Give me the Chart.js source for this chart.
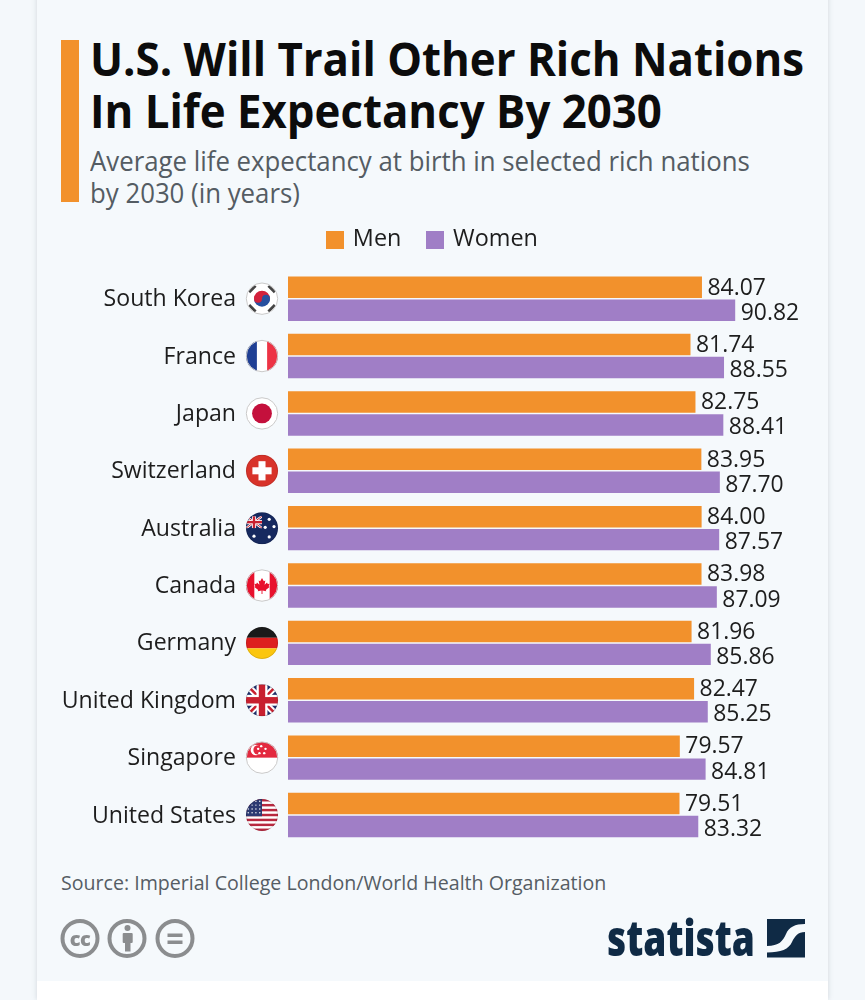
<!DOCTYPE html>
<html><head><meta charset="utf-8">
<script src="https://cdn.jsdelivr.net/npm/chart.js@4"></script>
<style>
html,body{margin:0;padding:0;background:#f4f8fb;width:865px;height:1000px;overflow:hidden;font-family:"Open Sans",sans-serif}
#card{position:absolute;left:37px;top:-10px;width:791px;height:1010px;background:#f5f9fc;box-shadow:0 0 5px rgba(120,130,140,.28)}
#foot{position:absolute;left:37px;top:981px;width:791px;height:19px;background:#fff}
#bar{position:absolute;left:61px;top:40px;width:18px;height:162px;background:#f2912c}
.t{position:absolute;white-space:nowrap;transform-origin:0 50%}
#t1,#t2{left:90px;font-weight:700;font-size:46px;line-height:52px;color:#0c0c0c;transform:scaleX(.952)}
#t1{top:32px}#t2{top:84px}
#s1,#s2{left:89.5px;font-size:27px;line-height:32px;color:#545c63;transform:scaleX(.955)}
#s1{top:145px}#s2{top:177px}
#src{left:61px;top:870px;font-size:19.6px;line-height:26px;color:#555d64}
canvas{position:absolute;left:0;top:0}
svg{position:absolute;left:0;top:0}
</style></head><body>
<div id="card"></div><div id="foot"></div><div id="bar"></div>
<div class="t" id="t1">U.S. Will Trail Other Rich Nations</div>
<div class="t" id="t2">In Life Expectancy By 2030</div>
<div class="t" id="s1">Average life expectancy at birth in selected rich nations</div>
<div class="t" id="s2">by 2030 (in years)</div>
<div class="t" id="src">Source: Imperial College London/World Health Organization</div>
<canvas id="c" width="865" height="860" style="width:865px;height:860px"></canvas>
<svg width="865" height="1000" viewBox="0 0 865 1000">
 <g fill="none" stroke="#8b8d8f" stroke-width="4">
  <circle cx="80" cy="938.5" r="17.5"/><circle cx="127" cy="938.5" r="17.5"/><circle cx="175" cy="938.5" r="17.5"/>
 </g>
 <text x="80" y="945.5" text-anchor="middle" font-family="Open Sans" font-weight="800" font-size="20" fill="#8b8d8f" letter-spacing="-0.5">cc</text>
 <g fill="#8b8d8f">
  <circle cx="127.5" cy="928" r="3"/>
  <rect x="122.7" y="933" width="10" height="10" rx="1"/><rect x="125" y="942" width="5.5" height="9.5"/>
  <rect x="167.5" y="933.5" width="15" height="3.5"/><rect x="167.5" y="940.5" width="15" height="3.5"/>
 </g>
 <text x="607" y="956" font-family="Open Sans" font-weight="800" font-size="50" fill="#0f2a45" textLength="148" lengthAdjust="spacingAndGlyphs">statista</text>
 <rect x="767" y="919" width="38" height="38.5" fill="#0f2a45"/>
 <path d="M767 946 C779 946 783 941 786 934 C789 927 795 924 805 924 L805 932 C798 932 795 936 792 942 C789 949 781 952.5 767 952.5Z" fill="#f5f9fc"/>
</svg>
<script>
const categories = ["South Korea","France","Japan","Switzerland","Australia","Canada","Germany","United Kingdom","Singapore","United States"];
const flagCodes = ["kr","fr","jp","ch","au","ca","de","uk","sg","us"];
const men = [84.07,81.74,82.75,83.95,84.00,83.98,81.96,82.47,79.57,79.51];
const women = [90.82,88.55,88.41,87.70,87.57,87.09,85.86,85.25,84.81,83.32];
const seriesNames = ["Men","Women"];
const ORANGE = "#f2912c", PURPLE = "#a07ec6", INK = "#1d1d1d";

function swatch(color){
  const s=document.createElement("canvas");s.width=18;s.height=18;
  const g=s.getContext("2d");g.fillStyle=color;g.fillRect(0,0,18,18);return s;
}
function unionJack(g,x,y,w,h){
  g.save();g.beginPath();g.rect(x,y,w,h);g.clip();
  g.fillStyle="#1f2f6b";g.fillRect(x,y,w,h);
  const line=(c,lw)=>{g.strokeStyle=c;g.lineWidth=lw;g.beginPath();g.moveTo(x,y);g.lineTo(x+w,y+h);g.moveTo(x+w,y);g.lineTo(x,y+h);g.stroke();};
  line("#fff",h*.2);line("#c8202f",h*.08);
  g.fillStyle="#fff";g.fillRect(x+w/2-h*.17,y,h*.34,h);g.fillRect(x,y+h*.33,w,h*.34);
  g.fillStyle="#c8202f";g.fillRect(x+w/2-h*.1,y,h*.2,h);g.fillRect(x,y+h*.4,w,h*.2);
  g.restore();
}
function dots(g,list,c,r){g.fillStyle=c;list.forEach(p=>{g.beginPath();g.arc(p[0],p[1],r,0,7);g.fill();});}
function drawFlag(g,code,x,y,r){
  g.save();
  g.beginPath();g.arc(x,y,r,0,Math.PI*2);g.clip();
  const L=x-r,T=y-r,S=2*r;
  const rect=(c,a,b,w,h)=>{g.fillStyle=c;g.fillRect(L+a*S,T+b*S,w*S,h*S);};
  rect("#fff",0,0,1,1);
  if(code==="kr"){
    g.fillStyle="#d2213c";g.beginPath();g.arc(x,y,r*.5,Math.PI,0);g.fill();
    g.fillStyle="#27509f";g.beginPath();g.arc(x,y,r*.5,0,Math.PI);g.fill();
    g.fillStyle="#d2213c";g.beginPath();g.arc(x-r*.25,y,r*.25,0,7);g.fill();
    g.fillStyle="#27509f";g.beginPath();g.arc(x+r*.25,y,r*.25,0,7);g.fill();
    g.strokeStyle="#444";g.lineWidth=r*.17;
    [[-1,-1],[1,-1],[-1,1],[1,1]].forEach(d=>{
      g.beginPath();
      const cx=x+d[0]*r*.6,cy=y+d[1]*r*.6,tx=d[0]*d[1]*r*.2,ty=-r*.2;
      g.moveTo(cx-tx,cy-ty);g.lineTo(cx+tx,cy+ty);g.stroke();});
  } else if(code==="fr"){
    rect("#1f3f94",0,0,.34,1);rect("#ed3345",.66,0,.34,1);
  } else if(code==="jp"){
    g.fillStyle="#c4103c";g.beginPath();g.arc(x,y,r*.62,0,7);g.fill();
  } else if(code==="ch"){
    rect("#d8332a",0,0,1,1);rect("#fff",.39,.2,.22,.6);rect("#fff",.2,.39,.6,.22);
  } else if(code==="au"){
    rect("#16295f",0,0,1,1);
    unionJack(g,L,y-r*.75,r,r*.75);
    dots(g,[[x-r*.5,y+r*.5],[x+r*.45,y-r*.55],[x+r*.75,y-r*.1],[x+r*.2,y-r*.05],[x+r*.45,y+r*.55]],"#fff",r*.1);
  } else if(code==="ca"){
    rect("#e8112d",0,0,.26,1);rect("#e8112d",.74,0,.26,1);
    g.fillStyle="#e8112d";g.beginPath();
    const lf=[[0,-.5],[.12,-.28],[.22,-.33],[.17,-.05],[.33,-.2],[.38,-.1],[.5,-.12],[.44,.05],[.5,.1],[.25,.3],[.28,.38],[.03,.33],[.03,.55],[-.03,.55],[-.03,.33],[-.28,.38],[-.25,.3],[-.5,.1],[-.44,.05],[-.5,-.12],[-.38,-.1],[-.33,-.2],[-.17,-.05],[-.22,-.33],[-.12,-.28]];
    lf.forEach((p,i)=>{const a=x+p[0]*r*.95,b=y+p[1]*r*.95;i?g.lineTo(a,b):g.moveTo(a,b);});
    g.closePath();g.fill();
  } else if(code==="de"){
    rect("#1a1a1a",0,0,1,.34);rect("#dd1f1f",0,.34,1,.33);rect("#fbc60f",0,.67,1,.33);
  } else if(code==="uk"){
    unionJack(g,L,T,S,S);
  } else if(code==="sg"){
    rect("#e3293f",0,0,1,.5);
    g.fillStyle="#fff";g.beginPath();g.arc(x-r*.38,y-r*.48,r*.33,0,7);g.fill();
    g.fillStyle="#e3293f";g.beginPath();g.arc(x-r*.24,y-r*.48,r*.3,0,7);g.fill();
    dots(g,[[x-r*.05,y-r*.72],[x+r*.22,y-r*.55],[x+r*.14,y-r*.28],[x-r*.16,y-r*.28],[x-r*.24,y-r*.55]],"#fff",r*.075);
  } else if(code==="us"){
    for(let i=0;i<7;i++) rect("#b8283f",0,i*2/13,1,1/13);
    rect("#2c3a72",0,0,.5,7/13);
    const st=[];for(let a=0;a<4;a++)for(let b=0;b<4;b++)st.push([L+S*(.07+b*.12),T+S*(.07+a*.12)]);
    dots(g,st,"#fff",r*.045);
  }
  g.restore();
  g.strokeStyle=["kr","jp","sg","fr","ca"].includes(code)?"#c9c9c9":"rgba(0,0,0,.12)";
  g.lineWidth=1;g.beginPath();g.arc(x,y,r-.3,0,Math.PI*2);g.stroke();
}
const extras = {
  id:"extras",
  beforeLayout(chart){
    const lg=chart.legend;
    if(lg && !lg._pinned){
      const f=lg.fit;
      lg.fit=function(){f.call(this);this.height=70;};
      lg._pinned=true;
    }
  },
  afterDatasetsDraw(chart){
    const g=chart.ctx, y=chart.scales.y;
    flagCodes.forEach((c,i)=>drawFlag(g,c,262,y.getPixelForValue(i),16));
    g.save();g.font='22.9px "Open Sans"';g.fillStyle=INK;g.textAlign="left";g.textBaseline="middle";
    chart.data.datasets.forEach((ds,k)=>{
      chart.getDatasetMeta(k).data.forEach((el,i)=>{
        g.fillText(ds.data[i].toFixed(2),el.x+5.5,el.y+(k===0?0.8:3));
      });
    });
    g.restore();
  }
};
new Chart(document.getElementById("c"),{
  type:"bar",
  data:{labels:categories,datasets:[
    {label:seriesNames[0],data:men,backgroundColor:ORANGE,categoryPercentage:.8,barPercentage:.935},
    {label:seriesNames[1],data:women,backgroundColor:PURPLE,categoryPercentage:.8,barPercentage:.935}
  ]},
  options:{
    indexAxis:"y",responsive:false,animation:false,
    layout:{padding:{top:200,right:0,bottom:16.3,left:2}},
    plugins:{
      tooltip:{enabled:false},
      legend:{position:"top",align:"center",
        labels:{boxWidth:12,padding:28,color:"#1d1d1d",font:{family:"Open Sans",size:23.4},usePointStyle:true,
          generateLabels(chart){
            return Chart.defaults.plugins.legend.labels.generateLabels(chart).map((it,i)=>{
              it.pointStyle=swatch(i===0?ORANGE:PURPLE);return it;});
          }}}
    },
    scales:{
      x:{display:false,min:0,max:117.18},
      y:{afterFit(a){a.width=286;},
         grid:{color:"transparent",drawOnChartArea:false,tickLength:52},border:{display:false},
         ticks:{padding:0,labelOffset:1,color:"#1d1d1d",font:{family:"Open Sans",size:23.1},autoSkip:false}}
    }
  },
  plugins:[extras]
});
</script>
</body></html>
